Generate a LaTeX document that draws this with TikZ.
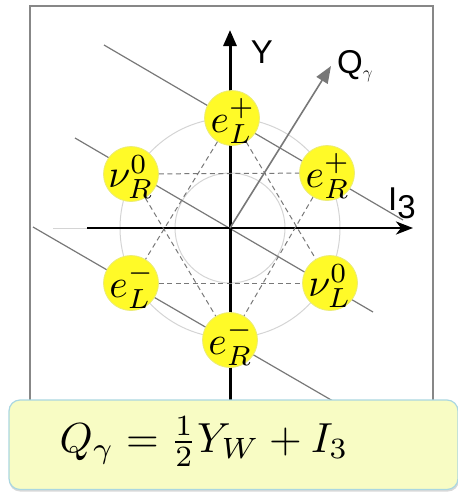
\documentclass[tikz,border=0pt]{standalone}
\usepackage{fontspec}
\newfontfamily\labfont{Liberation Sans}
\usetikzlibrary{arrows.meta}
\definecolor{ballfill}{RGB}{255,250,40}
\definecolor{ballrim}{RGB}{235,235,120}
\definecolor{framegray}{RGB}{135,135,135}
\definecolor{linegray}{RGB}{120,120,120}
\definecolor{circgray}{RGB}{212,212,212}
\definecolor{boxfill}{RGB}{248,252,196}
\definecolor{boxrim}{RGB}{170,215,225}
\tikzset{
  ball/.style={circle,fill=ballfill,draw=ballrim,line width=0.8pt,minimum size=55pt,inner sep=0pt},
  balltext/.style={inner sep=0pt,scale=3.95},
  qline/.style={draw=linegray,line width=1.2pt},
  dashline/.style={draw=linegray,line width=1pt,dash pattern=on 5pt off 3.5pt},
  guide/.style={draw=circgray,line width=1pt},
  axislab/.style={inner sep=0pt,font=\labfont\fontsize{33}{38}\selectfont},
}
\begin{document}
\begin{tikzpicture}[x=1pt,y=-1pt]
\useasboundingbox (0,0) rectangle (458,493);
% frame
\draw[framegray,line width=2pt] (30,480) -- (30,6) -- (433,6) -- (433,480);
% guide circles
\coordinate (O) at (230,228);
\draw[guide] (O) circle[radius=110];
\draw[guide] (O) circle[radius=55];
\coordinate (gl) at (53,228);
\coordinate (axl) at (87,228);
\draw[guide] (gl) -- (axl);
% lines of constant charge
\coordinate (q1a) at (104,45);  \coordinate (q1b) at (403,220);
\coordinate (q2a) at (75,138);  \coordinate (q2b) at (373,312);
\coordinate (q3a) at (33,227);  \coordinate (q3b) at (345,408);
\draw[qline] (q1a) -- (q1b);
\draw[qline] (q2a) -- (q2b);
\draw[qline] (q3a) -- (q3b);
% axes
\coordinate (ybot) at (230,405);
\coordinate (ytop) at (230,30);
\coordinate (xr) at (413,228);
\draw[line width=3pt,-{Triangle[length=16pt,width=13pt]}] (ybot) -- (ytop);
\draw[line width=2.6pt,-{Stealth[length=17pt,width=13pt,inset=5pt]}] (axl) -- (xr);
\coordinate (qtip) at (331,66);
\draw[linegray,line width=1.6pt,-{Triangle[length=17pt,width=13pt]}] (O) -- (qtip);
% particle nodes
\node[ball] (eLp) at (232,118) {};
\node[ball] (eRp) at (327,173) {};
\node[ball] (nuR) at (131,174) {};
\node[ball] (eLm) at (131,283) {};
\node[ball] (nuL) at (330,283) {};
\node[ball] (eRm) at (230,340) {};
% dashed hexagram
\draw[dashline] (nuR) -- (eRp);
\draw[dashline] (eLm) -- (nuL);
\draw[dashline] (eLp) -- (eLm);
\draw[dashline] (eLp) -- (nuL);
\draw[dashline] (nuR) -- (eRm);
\draw[dashline] (eRp) -- (eRm);
% labels in the balls
\node[balltext] (teLp) at ([xshift=1pt,yshift=-3pt]eLp) {$e_L^+$};
\node[balltext] (teRp) at ([xshift=1pt,yshift=-3pt]eRp) {$e_R^+$};
\node[balltext] (tnuR) at ([yshift=-3pt]nuR) {$\nu_R^0$};
\node[balltext] (teLm) at ([xshift=1pt,yshift=-3pt]eLm) {$e_L^-$};
\node[balltext] (tnuL) at ([yshift=-3pt]nuL) {$\nu_L^0$};
\node[balltext] (teRm) at ([xshift=1pt,yshift=-3pt]eRm) {$e_R^-$};
% axis labels
\node[axislab] (ylab) at (262,52) {Y};
\node[axislab,anchor=west] (qlab) at (337,66) {Q\raisebox{-5pt}{\fontsize{18}{20}\selectfont$\gamma$}};
\node[axislab,anchor=west] (ilab) at (388,203) {I\raisebox{-8pt}{3}};
% formula box
\fill[gray!30,rounded corners=11pt] (9,402) rectangle (459,491.5);
\draw[boxrim,fill=boxfill,line width=1.2pt,rounded corners=11pt] (9,400) rectangle (458,489.5);
\node[inner sep=0pt,scale=4.2] (formula) at (204,442) {$Q_\gamma = \frac{1}{2}Y_W + I_3$};
\end{tikzpicture}
\end{document}
